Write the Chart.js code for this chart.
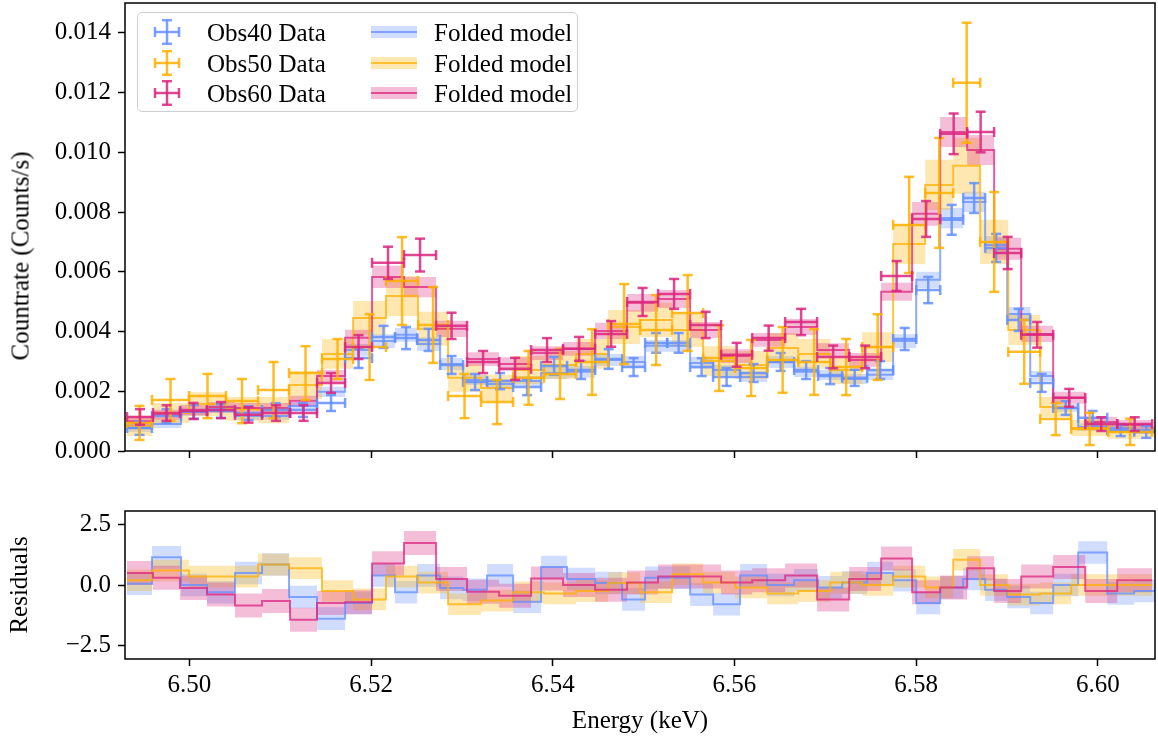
<!DOCTYPE html>
<html><head><meta charset="utf-8">
<script src="https://cdn.jsdelivr.net/npm/chart.js@4.4.1/dist/chart.umd.min.js"></script>
<style>
html,body{margin:0;padding:0;background:#fff;width:1158px;height:742px;overflow:hidden;}
#top{position:absolute;left:0;top:0;}
#bot{position:absolute;left:0;top:490px;}
.txt{position:absolute;font-family:"Liberation Serif","Times New Roman",serif;font-size:25px;color:#000;white-space:nowrap;line-height:1;}
#legend{position:absolute;left:137px;top:12px;width:441px;height:100px;border:1.5px solid #cfcfcf;border-radius:5px;background:rgba(255,255,255,0.85);box-sizing:border-box;}
#ylab{position:absolute;left:20px;top:256px;transform:translate(-50%,-50%) rotate(-90deg);}
</style>
</head><body>
<canvas id="top" width="1158" height="472"></canvas>
<canvas id="bot" width="1158" height="252"></canvas>
<div id="ylab" class="txt">Countrate (Counts/s)</div>
<div id="legend"></div>
<script>
// ---------------- data ----------------
const xTicks = [6.50, 6.52, 6.54, 6.56, 6.58, 6.60];
const yTicksTop = [0.000, 0.002, 0.004, 0.006, 0.008, 0.010, 0.012, 0.014];
const yTicksRes = [-2.5, 0.0, 2.5];

const obs40Edges = [6.49312,6.49587,6.49907,6.50193,6.50501,6.50799,6.51096,6.51404,6.51713,6.5201,6.52263,6.52506,6.52759,6.53012,6.53276,6.53563,6.53871,6.54157,6.54466,6.54763,6.55016,6.55259,6.55512,6.55765,6.56062,6.5636,6.56657,6.56921,6.57186,6.57461,6.57747,6.58001,6.58265,6.58518,6.5876,6.59003,6.59256,6.59509,6.59784,6.60104,6.60401,6.60665];
const obs40Rate = [0.00077,0.00117,0.00131,0.00134,0.00127,0.00137,0.00137,0.00161,0.00311,0.00382,0.00378,0.00372,0.00288,0.00231,0.00234,0.00214,0.00285,0.00271,0.00308,0.00281,0.00362,0.00362,0.00281,0.00248,0.00261,0.00298,0.00271,0.00251,0.00245,0.00271,0.00375,0.00539,0.00774,0.00847,0.0068,0.00439,0.00228,0.00144,0.00111,0.0007,0.00064];
const obs40Err = [0.00023,0.00023,0.00023,0.00023,0.00023,0.00023,0.00023,0.00027,0.00033,0.00037,0.00037,0.00037,0.0003,0.00027,0.00027,0.00027,0.0003,0.0003,0.00033,0.0003,0.00033,0.00033,0.0003,0.0003,0.0003,0.0003,0.0003,0.00027,0.00027,0.0003,0.00037,0.00044,0.0005,0.0005,0.00047,0.00037,0.0003,0.00023,0.00023,0.0002,0.0002];
const obs40Model = [0.00077,0.0009,0.00131,0.00141,0.00117,0.00117,0.00151,0.00198,0.00338,0.00368,0.00389,0.00358,0.00291,0.00238,0.00224,0.00234,0.00261,0.00265,0.00305,0.00298,0.00352,0.00352,0.00295,0.00271,0.00248,0.00298,0.00265,0.00255,0.00241,0.00255,0.00368,0.00573,0.0078,0.00834,0.0069,0.00459,0.00251,0.00144,0.0008,0.00077,0.0007];
const obs40Band = [0.00013,0.00013,0.00013,0.00013,0.00013,0.00013,0.00013,0.00017,0.0002,0.00023,0.00023,0.00023,0.0002,0.00017,0.00017,0.00017,0.0002,0.0002,0.0002,0.0002,0.0002,0.0002,0.0002,0.00017,0.00017,0.0002,0.00017,0.00017,0.00017,0.00017,0.00023,0.00027,0.00034,0.00034,0.0003,0.00023,0.00017,0.00013,0.00013,0.00013,0.00013];
const obs40Resid = [0.05,1.15,0.0,-0.3,0.5,0.85,-0.5,-1.4,-0.75,0.4,-0.3,0.4,-0.12,-0.2,0.4,-0.7,0.75,0.25,0.08,-0.6,0.3,0.3,-0.4,-0.8,0.4,0.0,0.2,-0.1,0.1,0.5,0.2,-0.75,-0.1,0.25,-0.2,-0.5,-0.75,0.0,1.35,-0.35,-0.25];
const obs40ResBand = 0.47;

const obs50Edges = [6.49312,6.49587,6.49995,6.50402,6.50755,6.51096,6.51459,6.51801,6.52164,6.52517,6.52847,6.5321,6.53563,6.53904,6.54256,6.54609,6.54961,6.55314,6.55655,6.56007,6.5636,6.56701,6.57054,6.57406,6.57747,6.581,6.58408,6.58705,6.59014,6.59366,6.59707,6.60115,6.60599];
const obs50Rate = [0.00094,0.00171,0.00184,0.00167,0.00204,0.00261,0.00308,0.00348,0.00569,0.00422,0.00184,0.00164,0.00245,0.00258,0.00298,0.00425,0.00405,0.00462,0.00311,0.00278,0.00305,0.00298,0.00281,0.00348,0.00757,0.00864,0.01233,0.007,0.00332,0.00107,0.00074,0.00064];
const obs50Err = [0.00057,0.0007,0.00074,0.00074,0.00094,0.0009,0.00067,0.0011,0.00147,0.00127,0.00074,0.00074,0.0009,0.00084,0.0011,0.00134,0.00117,0.00127,0.0011,0.00094,0.0011,0.0011,0.00094,0.0011,0.00161,0.00184,0.00201,0.00167,0.00107,0.00054,0.00054,0.00044];
const obs50Model = [0.00084,0.00127,0.00157,0.00141,0.00137,0.00221,0.00325,0.00445,0.00519,0.00409,0.00245,0.00211,0.00271,0.00288,0.00325,0.00415,0.00439,0.00405,0.00301,0.00288,0.00345,0.00325,0.00271,0.00348,0.00693,0.00891,0.00955,0.007,0.00405,0.00147,0.00077,0.00064];
const obs50Band = [0.00034,0.00034,0.0004,0.0004,0.00044,0.00047,0.0005,0.00057,0.00067,0.00057,0.00047,0.00044,0.00047,0.00047,0.0005,0.00057,0.00057,0.00057,0.0005,0.00047,0.0005,0.0005,0.00047,0.0005,0.00067,0.00084,0.00094,0.00074,0.0005,0.00034,0.00027,0.00023];
const obs50Resid = [0.2,0.6,0.35,0.35,0.85,0.7,-0.25,-0.6,0.35,0.1,-0.8,-0.65,-0.3,-0.35,-0.25,0.08,-0.3,0.45,0.1,-0.1,-0.35,-0.25,0.1,0.0,0.35,-0.1,1.05,0.0,-0.4,-0.35,0.0,0.0];
const obs50ResBand = 0.45;

const obs60Edges = [6.49312,6.49598,6.49896,6.50193,6.50501,6.50799,6.51107,6.51404,6.51713,6.5201,6.52362,6.52715,6.53056,6.53409,6.53761,6.54113,6.54466,6.54818,6.55159,6.55512,6.55853,6.56195,6.56558,6.5691,6.57263,6.57615,6.57956,6.58265,6.58562,6.58859,6.59157,6.59509,6.59862,6.60214,6.60599];
const obs60Rate = [0.00114,0.00127,0.00134,0.00137,0.00121,0.00127,0.00127,0.00228,0.00348,0.0063,0.00656,0.00419,0.00298,0.00275,0.00338,0.00342,0.00392,0.00499,0.00526,0.00422,0.00322,0.00378,0.00432,0.00315,0.00315,0.00586,0.00777,0.01062,0.01068,0.00663,0.00389,0.00178,0.0009,0.0009];
const obs60Err = [0.00026,0.00026,0.00027,0.00027,0.00026,0.00026,0.00026,0.00033,0.0004,0.00054,0.00055,0.00044,0.00037,0.00037,0.0004,0.0004,0.00043,0.00047,0.0005,0.00044,0.0004,0.00042,0.00044,0.00038,0.00038,0.0005,0.0006,0.00068,0.00068,0.00054,0.00043,0.0003,0.00023,0.00023];
const obs60Model = [0.001,0.00121,0.00137,0.00147,0.00144,0.00144,0.00168,0.00251,0.00379,0.00583,0.00549,0.00409,0.00308,0.00291,0.00328,0.00342,0.00402,0.00496,0.00509,0.00405,0.00318,0.00372,0.00415,0.00338,0.00305,0.00533,0.00794,0.01068,0.01008,0.00677,0.00392,0.00178,0.00097,0.00087];
const obs60Band = [0.00017,0.00017,0.00017,0.00017,0.00017,0.00017,0.00017,0.0002,0.00027,0.00037,0.00034,0.00027,0.00023,0.00023,0.00023,0.00023,0.00027,0.0003,0.0003,0.00027,0.00023,0.00023,0.00027,0.00023,0.00023,0.0003,0.0004,0.0005,0.0005,0.00037,0.00027,0.0002,0.00017,0.00017];
const obs60Resid = [0.5,0.3,-0.12,-0.4,-0.85,-0.67,-1.45,-0.75,-0.72,0.9,1.75,0.25,-0.28,-0.45,0.27,0.0,-0.2,0.1,0.35,0.35,0.1,0.2,0.4,-0.6,0.25,1.1,-0.3,-0.1,0.7,-0.25,0.35,0.75,-0.25,0.2];
const obs60ResBand = 0.5;

const seriesNames = ['Obs40 Data', 'Obs50 Data', 'Obs60 Data'];
const modelName = 'Folded model';

// ---------------- style ----------------
const XMIN = 6.4929, XMAX = 6.6063;
const FONT = '"Liberation Serif", "Times New Roman", serif';
const FS = 25;
const COLORS = {o40:[100,143,255], o50:[255,176,0], o60:[220,38,127]};
const rgba = (c,a)=>`rgba(${c[0]},${c[1]},${c[2]},${a})`;

const series = [ // drawn top-most first
  {c:COLORS.o60, edges:obs60Edges, rate:obs60Rate, err:obs60Err, model:obs60Model, band:obs60Band, resid:obs60Resid, rband:obs60ResBand},
  {c:COLORS.o50, edges:obs50Edges, rate:obs50Rate, err:obs50Err, model:obs50Model, band:obs50Band, resid:obs50Resid, rband:obs50ResBand},
  {c:COLORS.o40, edges:obs40Edges, rate:obs40Rate, err:obs40Err, model:obs40Model, band:obs40Band, resid:obs40Resid, rband:obs40ResBand},
];

function steps(edges, vals, off, sign){
  const pts = vals.map((v,i)=>({x:edges[i], y:v + sign*(Array.isArray(off)?off[i]:off)}));
  const n = vals.length-1;
  pts.push({x:edges[edges.length-1], y:vals[n] + sign*(Array.isArray(off)?off[n]:off)});
  return pts;
}
function xerrPts(edges, rate){
  const p=[]; rate.forEach((r,i)=>{p.push({x:edges[i],y:r},{x:edges[i+1],y:r},{x:edges[i+1],y:null});}); return p;
}
function yerrPts(edges, rate, err){
  const p=[]; rate.forEach((r,i)=>{const c=(edges[i]+edges[i+1])/2; p.push({x:c,y:r-err[i]},{x:c,y:r+err[i]},{x:c,y:null});}); return p;
}

function buildSets(isTop){
  const ds=[];
  series.forEach((s,k)=>{
    const vals = isTop ? s.model : s.resid;
    const band = isTop ? s.band : s.rband;
    const up = ds.length;
    ds.push({data:steps(s.edges, vals, band, 1), stepped:true, borderWidth:0, borderColor:'transparent', pointRadius:0, fill:false, order:30+k, clip:0});
    ds.push({data:steps(s.edges, vals, band, -1), stepped:true, borderWidth:0, borderColor:'transparent', pointRadius:0, fill:up, backgroundColor:rgba(s.c,0.3), order:30+k, clip:0});
    ds.push({data:steps(s.edges, vals, 0, 0), stepped:true, borderWidth:2, borderColor:rgba(s.c,0.75), pointRadius:0, fill:false, order:20+k, clip:0});
    if(isTop){
      ds.push({data:xerrPts(s.edges, s.rate), borderWidth:2.5, borderColor:rgba(s.c,0.85), spanGaps:false, fill:false,
        pointStyle:'line', pointRotation:90, pointRadius:5, pointBorderWidth:2.5, pointBorderColor:rgba(s.c,0.85), order:10+k, clip:0});
      ds.push({data:yerrPts(s.edges, s.rate, s.err), borderWidth:2.5, borderColor:rgba(s.c,0.85), spanGaps:false, fill:false,
        pointStyle:'line', pointRotation:0, pointRadius:5, pointBorderWidth:2.5, pointBorderColor:rgba(s.c,0.85), order:10+k, clip:0});
    }
  });
  return ds;
}

const framePlugin = {id:'frame', afterDraw(chart){
  const {ctx, chartArea:a} = chart; ctx.save(); ctx.strokeStyle='#000'; ctx.lineWidth=1.5;
  ctx.strokeRect(a.left, a.top, a.right-a.left, a.bottom-a.top); ctx.restore();
}};

const tickFont = {family:FONT, size:FS};
const gridOpt = {display:true, drawOnChartArea:false, drawTicks:true, tickLength:7, tickWidth:1.5, tickColor:'#000'};

function baseOpts(){
  return {responsive:false, animation:false, devicePixelRatio:1, events:[],
    plugins:{legend:{display:false}, tooltip:{enabled:false}}, elements:{line:{tension:0}}};
}
const noPad = s=>{s.paddingTop=0; s.paddingBottom=0; s.paddingLeft=0; s.paddingRight=0;};

// top chart
const topOpts = baseOpts();
topOpts.layout = {autoPadding:false, padding:{left:0, right:3, top:3, bottom:0}};
topOpts.scales = {
  x:{type:'linear', min:XMIN, max:XMAX, position:'bottom', grid:gridOpt, border:{display:false},
     afterBuildTicks:s=>{s.ticks = xTicks.map(v=>({value:v}));}, ticks:{display:false},
     afterFit:s=>{s.height=21; noPad(s);}},
  y:{type:'linear', min:0, max:0.015, grid:gridOpt, border:{display:false},
     afterBuildTicks:s=>{s.ticks = yTicksTop.map(v=>({value:v}));},
     ticks:{font:tickFont, color:'#000', padding:7, callback:v=>v.toFixed(3)},
     afterFit:s=>{s.width=125; noPad(s);}}
};
new Chart(document.getElementById('top'), {type:'line', data:{datasets:buildSets(true)}, options:topOpts, plugins:[framePlugin]});

// residual chart
const botOpts = baseOpts();
botOpts.layout = {autoPadding:false, padding:{left:0, right:3, top:21, bottom:0}};
botOpts.scales = {
  x:{type:'linear', min:XMIN, max:XMAX, position:'bottom', grid:gridOpt, border:{display:false},
     afterBuildTicks:s=>{s.ticks = xTicks.map(v=>({value:v}));},
     ticks:{font:tickFont, color:'#000', padding:4, maxRotation:0, callback:v=>v.toFixed(2)},
     title:{display:true, text:'Energy (keV)', font:tickFont, color:'#000', padding:{top:0,bottom:6}},
     afterFit:s=>{s.height=83; noPad(s);}},
  y:{type:'linear', min:-3.08, max:3.08, grid:gridOpt, border:{display:false},
     afterBuildTicks:s=>{s.ticks = yTicksRes.map(v=>({value:v}));},
     ticks:{font:tickFont, color:'#000', padding:7, callback:v=>(v<0?'\u2212':'')+Math.abs(v).toFixed(1)},
     title:{display:true, text:'Residuals', font:tickFont, color:'#000', padding:{top:5,bottom:0}},
     afterFit:s=>{s.width=125; noPad(s);}}
};
new Chart(document.getElementById('bot'), {type:'line', data:{datasets:buildSets(false)}, options:botOpts, plugins:[framePlugin]});

// legend (HTML)
const leg = document.getElementById('legend');
const legOrder = [series[2], series[1], series[0]];
legOrder.forEach((s,i)=>{
  const cy = 19 + i*30.5;
  const col = rgba(s.c,0.85);
  const svg1 = `<svg style="position:absolute;left:15px;top:${cy-13}px" width="28" height="26">
    <line x1="2" y1="13" x2="26" y2="13" stroke="${col}" stroke-width="2.5"/>
    <line x1="2" y1="8" x2="2" y2="18" stroke="${col}" stroke-width="2.5"/>
    <line x1="26" y1="8" x2="26" y2="18" stroke="${col}" stroke-width="2.5"/>
    <line x1="14" y1="1.2" x2="14" y2="24.8" stroke="${col}" stroke-width="2.5"/>
    <line x1="9" y1="1.2" x2="19" y2="1.2" stroke="${col}" stroke-width="2.5"/>
    <line x1="9" y1="24.8" x2="19" y2="24.8" stroke="${col}" stroke-width="2.5"/></svg>`;
  const svg2 = `<svg style="position:absolute;left:233px;top:${cy-8}px" width="46" height="16">
    <rect x="0" y="2" width="46" height="12" fill="${rgba(s.c,0.3)}"/>
    <line x1="0" y1="8" x2="46" y2="8" stroke="${rgba(s.c,0.75)}" stroke-width="2.2"/></svg>`;
  leg.insertAdjacentHTML('beforeend', svg1 + `<div class="txt" style="left:69px;top:${cy-12}px">${seriesNames[i]}</div>` +
    svg2 + `<div class="txt" style="left:296px;top:${cy-12}px">${modelName}</div>`);
});
</script>
</body></html>
